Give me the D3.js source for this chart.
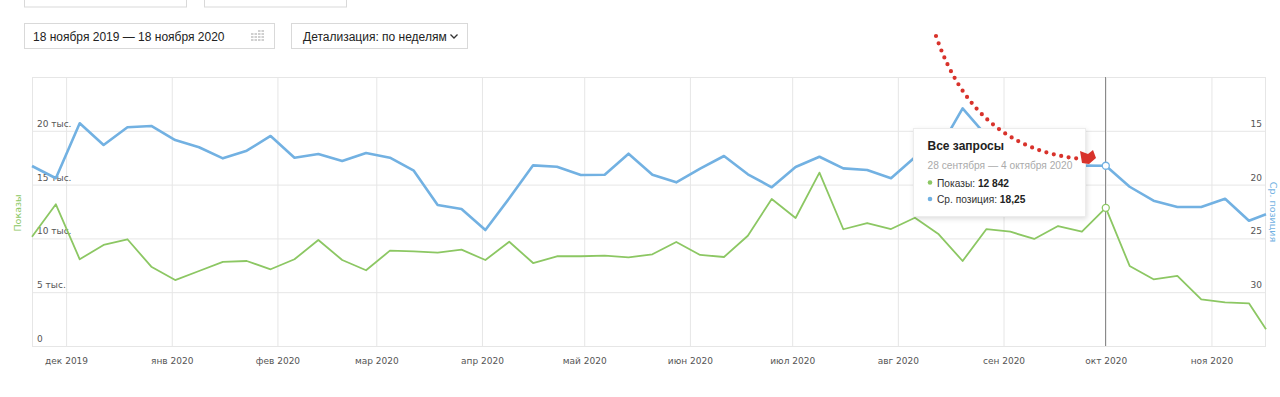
<!DOCTYPE html>
<html>
<head>
<meta charset="utf-8">
<script src="https://cdn.jsdelivr.net/npm/d3@7"></script>
<style>
  body { margin: 0; background: #fff; }
  svg { display: block; }
</style>
</head>
<body>
<div id="chart"></div>
<script>
// Define svg width and height
var svgWidth = 1280;
var svgHeight = 397;
// Plot margins
var margin = { top: 77, right: 14, bottom: 51, left: 32 };
var width = svgWidth - margin.left - margin.right;
var height = svgHeight - margin.top - margin.bottom;

// ---------------- DATA ---------------- //
// report period (weekly detail)
var periodStart = new Date(Date.UTC(2019, 10, 18));
var periodEnd = new Date(Date.UTC(2020, 10, 18));
// Показы per week
var shows = [10160, 13170, 8060, 9390, 9920, 7370, 6130, 6970, 7810, 7900,
  7130, 8060, 9850, 7990, 7040, 8860, 8800, 8670, 8950, 7990,
  9690, 7710, 8340, 8340, 8390, 8240, 8520, 9670, 8460, 8270,
  10250, 13660, 11900, 16110, 10850, 11430, 10870, 11920, 10380, 7900,
  10870, 10620, 9950, 11150, 10620, 12842, 7440, 6200, 6510, 4340,
  4060, 3970, 1550];
// Ср. позиция per week
var positions = [18.27, 19.41, 14.30, 16.32, 14.67, 14.55, 15.86, 16.53, 17.56, 16.85,
  15.48, 17.50, 17.16, 17.81, 17.06, 17.50, 18.71, 21.90, 22.27, 24.22,
  21.27, 18.21, 18.34, 19.11, 19.08, 17.13, 19.08, 19.79, 18.52, 17.34,
  19.04, 20.25, 18.36, 17.41, 18.49, 18.64, 19.41, 17.46, 16.78, 12.91,
  15.48, 16.32, 16.97, 17.71, 18.24, 18.25, 20.20, 21.50, 22.08, 22.08,
  21.31, 23.36, 22.76];
// axis ticks
var leftTicks = [0, 5000, 10000, 15000, 20000];
var leftTickLabels = ["0", "5 тыс.", "10 тыс.", "15 тыс.", "20 тыс."];
var rightTicks = [15, 20, 25, 30];
var monthNames = ["янв", "фев", "мар", "апр", "май", "июн", "июл", "авг", "сен", "окт", "ноя", "дек"];
// hovered week
var hoverIndex = 45;
var tooltipTitle = "Все запросы";
var tooltipDates = "28 сентября — 4 октября 2020";
var tooltipShows = "12 842";
var tooltipPosition = "18,25";

var greenColor = "#8cc763";
var blueColor = "#72b1e2";
var gridColor = "#e6e6e6";
var axisFont = "'DejaVu Sans', Verdana, sans-serif";
var uiFont = "'Liberation Sans', Arial, sans-serif";

// weeks: point sits in the middle of each (possibly partial) week
var day = 24 * 3600 * 1000;
var weekStarts = d3.utcMonday.range(periodStart, new Date(+periodEnd + day));
var points = weekStarts.map(function(ws, i) {
  var we = new Date(Math.min(+ws + 6 * day, +periodEnd));
  return { date: new Date((+ws + +we) / 2), shows: shows[i], pos: positions[i] };
});

// Create an SVG wrapper
var svg = d3.select("#chart")
  .append("svg")
  .attr("width", svgWidth)
  .attr("height", svgHeight)
  .style("font-family", uiFont);

var defs = svg.append("defs");
var shadow = defs.append("filter").attr("id", "shadow")
  .attr("x", "-10%").attr("y", "-10%").attr("width", "130%").attr("height", "140%");
shadow.append("feDropShadow")
  .attr("dx", 1).attr("dy", 2).attr("stdDeviation", 2.5)
  .attr("flood-color", "#000").attr("flood-opacity", 0.13);

// ---------------- TOP CONTROLS ---------------- //
var controls = svg.append("g");
// cut-off boxes of the row above
controls.append("rect").attr("x", 24.5).attr("y", -10).attr("width", 162).attr("height", 17)
  .attr("fill", "#fff").attr("stroke", "#d9d9d9");
controls.append("rect").attr("x", 204.5).attr("y", -10).attr("width", 142).attr("height", 17)
  .attr("fill", "#fff").attr("stroke", "#d9d9d9");

// date range field
controls.append("rect").attr("x", 24.5).attr("y", 23.5).attr("width", 250).attr("height", 25)
  .attr("fill", "#fff").attr("stroke", "#d9d9d9");
controls.append("text").attr("x", 33).attr("y", 40.5)
  .attr("font-size", 12).attr("fill", "#222")
  .text("18 ноября 2019 — 18 ноября 2020");
// calendar icon
var cal = controls.append("g").attr("transform", "translate(251,30)");
d3.range(4).forEach(function(r) {
  d3.range(4).forEach(function(c) {
    if (r === 0 && c < 2) return;
    cal.append("rect").attr("x", c * 3.5).attr("y", r * 3).attr("width", 2.5).attr("height", 2)
      .attr("fill", "#d0d0d0");
  });
});

// detail selector
controls.append("rect").attr("x", 291.5).attr("y", 23.5).attr("width", 176).attr("height", 25)
  .attr("fill", "#fff").attr("stroke", "#d9d9d9");
controls.append("text").attr("x", 303).attr("y", 40.5)
  .attr("font-size", 12).attr("fill", "#222")
  .text("Детализация: по неделям");
controls.append("path").attr("d", "M450.5,34.5 L454,38 L457.5,34.5")
  .attr("fill", "none").attr("stroke", "#333").attr("stroke-width", 1.3);

// ---------------- SCALES ---------------- //
var xScale = d3.scaleUtc()
  .domain([points[0].date, points[points.length - 1].date])
  .range([0, width]);
var yLeft = d3.scaleLinear().domain([0, 25000]).range([height, 0]);
var yRight = d3.scaleLinear().domain([10, 35]).range([0, height]);

var chartGroup = svg.append("g")
  .attr("transform", `translate(${margin.left}, ${margin.top})`);

// horizontal grid
chartGroup.append("g")
  .call(d3.axisLeft(yLeft).tickValues(leftTicks.concat([25000])).tickSize(-width).tickFormat(""))
  .call(g => g.select(".domain").remove())
  .call(g => g.selectAll("line").attr("stroke", gridColor));

// vertical month grid + labels
var months = d3.utcMonth.range(d3.utcMonth.ceil(xScale.domain()[0]), xScale.domain()[1]);
var xAxis = chartGroup.append("g")
  .attr("transform", `translate(0, ${height})`)
  .call(d3.axisBottom(xScale).tickValues(months).tickSize(-height).tickPadding(12)
    .tickFormat(d => monthNames[d.getUTCMonth()] + " " + d.getUTCFullYear()));
xAxis.select(".domain").remove();
xAxis.selectAll("line").attr("stroke", gridColor);
xAxis.selectAll("text")
  .attr("fill", "#555")
  .style("font-family", axisFont)
  .style("font-size", "9px");

// plot frame
chartGroup.append("rect")
  .attr("x", 0.5).attr("y", 0.5).attr("width", width - 1).attr("height", height)
  .attr("fill", "none").attr("stroke", gridColor);

// left tick labels (inside the plot, above the grid line)
chartGroup.append("g").selectAll("text")
  .data(leftTicks)
  .enter()
  .append("text")
  .attr("x", 5)
  .attr("y", d => yLeft(d) - 4)
  .attr("fill", "#555")
  .style("font-family", axisFont)
  .style("font-size", "9px")
  .text((d, i) => leftTickLabels[i]);

// right tick labels
chartGroup.append("g").selectAll("text")
  .data(rightTicks)
  .enter()
  .append("text")
  .attr("x", width - 4)
  .attr("y", d => yRight(d) - 4)
  .attr("text-anchor", "end")
  .attr("fill", "#555")
  .style("font-family", axisFont)
  .style("font-size", "9px")
  .text(d => d);

// axis titles
svg.append("text")
  .attr("transform", "translate(21, 213) rotate(-90)")
  .attr("text-anchor", "middle")
  .attr("fill", greenColor)
  .style("font-family", axisFont)
  .style("font-size", "9.5px")
  .text("Показы");
svg.append("text")
  .attr("transform", "translate(1270, 212) rotate(90)")
  .attr("text-anchor", "middle")
  .attr("fill", blueColor)
  .style("font-family", axisFont)
  .style("font-size", "9.5px")
  .text("Ср. позиция");

// crosshair
var hover = points[hoverIndex];
chartGroup.append("line")
  .attr("x1", Math.round(xScale(hover.date)) - 0.5)
  .attr("x2", Math.round(xScale(hover.date)) - 0.5)
  .attr("y1", 0).attr("y2", height)
  .attr("stroke", "#8a8a8a").attr("stroke-width", 1);

// lines
var showsLine = d3.line()
  .x(d => xScale(d.date))
  .y(d => yLeft(d.shows));
var posLine = d3.line()
  .x(d => xScale(d.date))
  .y(d => yRight(d.pos));

chartGroup.append("path")
  .datum(points)
  .attr("d", showsLine)
  .attr("fill", "none")
  .attr("stroke", greenColor)
  .attr("stroke-width", 1.8)
  .attr("stroke-linejoin", "round");
chartGroup.append("path")
  .datum(points)
  .attr("d", posLine)
  .attr("fill", "none")
  .attr("stroke", blueColor)
  .attr("stroke-width", 2.6)
  .attr("stroke-linejoin", "round");

// hover markers
chartGroup.append("circle")
  .attr("cx", xScale(hover.date)).attr("cy", yLeft(hover.shows)).attr("r", 3.5)
  .attr("fill", "#fff").attr("stroke", greenColor).attr("stroke-width", 1.3);
chartGroup.append("circle")
  .attr("cx", xScale(hover.date)).attr("cy", yRight(hover.pos)).attr("r", 3.5)
  .attr("fill", "#fff").attr("stroke", blueColor).attr("stroke-width", 1.3);

// ---------------- TOOLTIP ---------------- //
var tip = svg.append("g").attr("transform", "translate(913, 128)");
tip.append("rect")
  .attr("x", 0.5).attr("y", 0.5).attr("width", 172).attr("height", 88)
  .attr("fill", "#fff").attr("stroke", "#ececec")
  .attr("filter", "url(#shadow)");
tip.append("text").attr("x", 14.5).attr("y", 21.5)
  .attr("font-size", 12).attr("font-weight", "bold").attr("fill", "#222")
  .text(tooltipTitle);
tip.append("text").attr("x", 14.5).attr("y", 41)
  .attr("font-size", 10.2).attr("fill", "#aaa")
  .text(tooltipDates);
var rows = [
  { color: greenColor, label: "Показы: ", value: tooltipShows, y: 58.5 },
  { color: blueColor, label: "Ср. позиция: ", value: tooltipPosition, y: 75 }
];
rows.forEach(function(r) {
  tip.append("circle").attr("cx", 17).attr("cy", r.y - 4).attr("r", 2.3).attr("fill", r.color);
  var t = tip.append("text").attr("x", 24).attr("y", r.y)
    .attr("font-size", 10.2).attr("fill", "#333");
  t.append("tspan").text(r.label);
  t.append("tspan").attr("font-weight", "bold").attr("fill", "#222").text(r.value);
});

// ---------------- RED DOTTED ARROW ---------------- //
svg.append("path")
  .attr("d", "M936,36 Q975,150 1083,159")
  .attr("fill", "none")
  .attr("stroke", "#d8322b")
  .attr("stroke-width", 4.2)
  .attr("stroke-linecap", "round")
  .attr("stroke-dasharray", "0 7.6");
svg.append("path")
  .attr("d", "M1080,151 L1088,154 L1093,150 L1096,158 L1089,164 L1082,163 Z")
  .attr("fill", "#d8322b");
</script>
</body>
</html>
